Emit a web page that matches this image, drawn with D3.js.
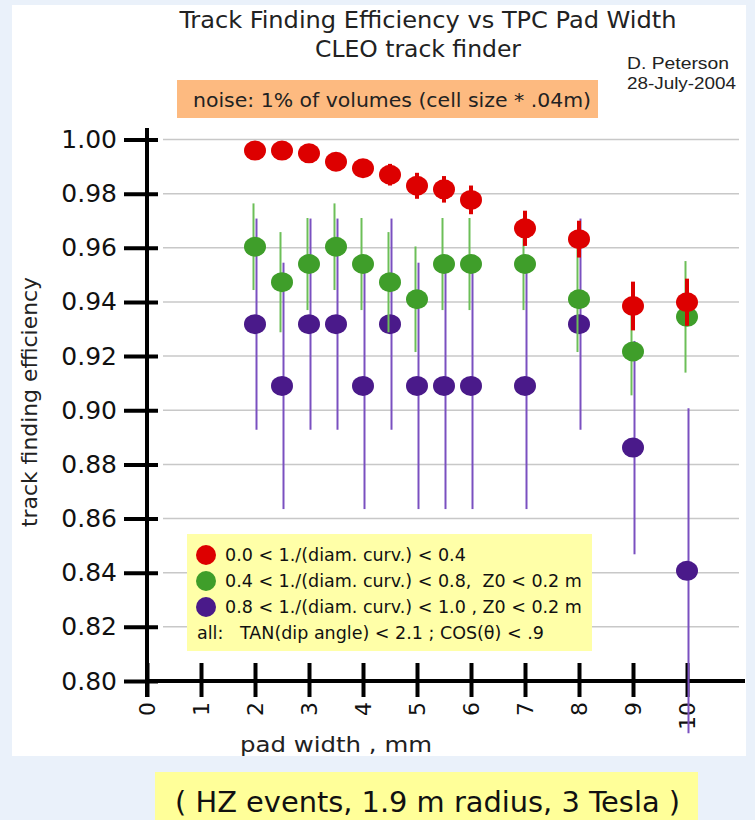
<!DOCTYPE html>
<html>
<head>
<meta charset="utf-8">
<script src="https://cdn.jsdelivr.net/npm/d3@7"></script>
<style>
  html, body { margin: 0; padding: 0; background: #eaf1fa; }
  svg { display: block; }
</style>
</head>
<body>
<svg id="chart" width="755" height="820"></svg>
<script>
// Pad widths (mm) at which the track finder was run
const padWidths = [2, 2.5, 3, 3.5, 4, 4.5, 5, 5.5, 6, 7, 8, 9, 10];

// 0.0 < 1/(diam. curv.) < 0.4
const lowCurvEff = [0.9959, 0.9959, 0.9949, 0.9918, 0.9894, 0.9870, 0.9829, 0.9816, 0.9777, 0.9672, 0.9632, 0.9385, 0.9399];
const lowCurvErr = [0.0015, 0.0015, 0.0020, 0.0025, 0.0030, 0.0040, 0.0048, 0.0049, 0.0053, 0.0065, 0.0068, 0.0090, 0.0087];

// 0.4 < 1/(diam. curv.) < 0.8, Z0 < 0.2 m
const midCurvEff = [0.9604, 0.9473, 0.9540, 0.9604, 0.9540, 0.9473, 0.9410, 0.9540, 0.9540, 0.9540, 0.9410, 0.9217, 0.9345];
const midCurvErr = [0.0160, 0.0185, 0.0170, 0.0160, 0.0170, 0.0185, 0.0195, 0.0170, 0.0170, 0.0170, 0.0195, 0.0162, 0.0206];

// 0.8 < 1/(diam. curv.) < 1.0, Z0 < 0.2 m
const highCurvEff = [0.9318, 0.9090, 0.9318, 0.9318, 0.9090, 0.9318, 0.9090, 0.9090, 0.9090, 0.9090, 0.9318, 0.8862, 0.8407];
const highCurvErr = [0.0390, 0.0455, 0.0390, 0.0390, 0.0455, 0.0390, 0.0455, 0.0455, 0.0455, 0.0455, 0.0390, 0.0394, 0.0600];

const yTicks = [0.80, 0.82, 0.84, 0.86, 0.88, 0.90, 0.92, 0.94, 0.96, 0.98, 1.00];
const xTicks = [0, 1, 2, 3, 4, 5, 6, 7, 8, 9, 10];

const legendLabels = [
  "0.0 < 1./(diam. curv.) < 0.4",
  "0.4 < 1./(diam. curv.) < 0.8,  Z0 < 0.2 m",
  "0.8 < 1./(diam. curv.) < 1.0 , Z0 < 0.2 m"
];
const legendNote = "all:   TAN(dip angle) < 2.1 ; COS(\u03b8) < .9";

const series = [
  { name: legendLabels[2], eff: highCurvEff, err: highCurvErr, fill: "#4a1a8a", bar: "#7a50c0", barWidth: 2, offset: 1.5 },
  { name: legendLabels[1], eff: midCurvEff, err: midCurvErr, fill: "#3f9e2a", bar: "#6cbf58", barWidth: 2, offset: -1.5 },
  { name: legendLabels[0], eff: lowCurvEff, err: lowCurvErr, fill: "#dd0000", bar: "#dd0000", barWidth: 4, offset: 0 }
];

const svg = d3.select("#chart");
const VERDANA = "'DejaVu Sans', Verdana, sans-serif";
const NARROW = "'Liberation Sans Narrow', 'DejaVu Sans Condensed', 'Liberation Sans', Arial, sans-serif";
const ARIAL = "'Liberation Sans', Arial, sans-serif";

// white slide panel
svg.append("rect").attr("x", 12).attr("y", 5).attr("width", 734).attr("height", 751).attr("fill", "#ffffff");

const x = d3.scaleLinear().domain([0, 10]).range([147, 687]);
const y = d3.scaleLinear().domain([0.8, 1.0]).range([681, 139.5]);

// titles
svg.append("text").attr("x", 428).attr("y", 28).attr("text-anchor", "middle")
  .attr("font-family", NARROW).attr("font-size", 23).attr("fill", "#222")
  .attr("textLength", 497).attr("lengthAdjust", "spacingAndGlyphs")
  .text("Track Finding Efficiency vs TPC Pad Width");
svg.append("text").attr("x", 418).attr("y", 57).attr("text-anchor", "middle")
  .attr("font-family", NARROW).attr("font-size", 23).attr("fill", "#222")
  .attr("textLength", 206).attr("lengthAdjust", "spacingAndGlyphs")
  .text("CLEO track finder");
svg.append("text").attr("x", 627).attr("y", 69)
  .attr("font-family", ARIAL).attr("font-size", 17).attr("fill", "#222")
  .attr("textLength", 102).attr("lengthAdjust", "spacingAndGlyphs")
  .text("D. Peterson");
svg.append("text").attr("x", 627).attr("y", 89)
  .attr("font-family", ARIAL).attr("font-size", 17).attr("fill", "#222")
  .attr("textLength", 109).attr("lengthAdjust", "spacingAndGlyphs")
  .text("28-July-2004");

// noise note
svg.append("rect").attr("x", 177).attr("y", 80).attr("width", 421).attr("height", 38).attr("fill", "#fdba80");
svg.append("text").attr("x", 193).attr("y", 107)
  .attr("font-family", NARROW).attr("font-size", 20).attr("fill", "#222")
  .attr("textLength", 398).attr("lengthAdjust", "spacingAndGlyphs")
  .text("noise: 1% of volumes (cell size * .04m)");

// horizontal grid
svg.append("g").selectAll("line").data(yTicks.filter(d => d > 0.8)).join("line")
  .attr("x1", 163).attr("x2", 739)
  .attr("y1", d => y(d)).attr("y2", d => y(d))
  .attr("stroke", "#c8c8c8").attr("stroke-width", 1.5);

// y axis
const yAxis = svg.append("g").attr("transform", `translate(${x(0)},0)`)
  .call(d3.axisLeft(y).tickValues(yTicks).tickFormat(d3.format(".2f")).tickSize(23).tickPadding(7));
yAxis.select(".domain").remove();
yAxis.selectAll(".tick line").attr("x1", 11).attr("stroke", "#000").attr("stroke-width", 4);
yAxis.selectAll(".tick text").attr("font-family", VERDANA).attr("font-size", 25).attr("fill", "#111");
yAxis.append("line").attr("x1", 0).attr("x2", 0).attr("y1", 128).attr("y2", 697)
  .attr("stroke", "#000").attr("stroke-width", 4);

// x axis
const xAxis = svg.append("g").attr("transform", `translate(0,${y(0.8)})`)
  .call(d3.axisBottom(x).tickValues(xTicks).tickFormat(d3.format("d")).tickSize(16));
xAxis.select(".domain").remove();
xAxis.selectAll(".tick line").attr("y1", -18).attr("stroke", "#000").attr("stroke-width", 4);
xAxis.selectAll(".tick text")
  .attr("transform", "rotate(-90)")
  .attr("x", -21).attr("y", 0).attr("dy", "0.36em")
  .attr("text-anchor", "end")
  .attr("font-family", VERDANA).attr("font-size", 22).attr("fill", "#111");
xAxis.append("line").attr("x1", x(0)).attr("x2", x.range()[1] + 58).attr("y1", 0).attr("y2", 0)
  .attr("stroke", "#000").attr("stroke-width", 4);

// axis titles
svg.append("text").attr("transform", "translate(37,402) rotate(-90)").attr("text-anchor", "middle")
  .attr("font-family", NARROW).attr("font-size", 21).attr("fill", "#222")
  .attr("textLength", 250).attr("lengthAdjust", "spacingAndGlyphs")
  .text("track finding efficiency");
svg.append("text").attr("x", 336).attr("y", 752).attr("text-anchor", "middle")
  .attr("font-family", NARROW).attr("font-size", 21).attr("fill", "#222")
  .attr("textLength", 192).attr("lengthAdjust", "spacingAndGlyphs")
  .text("pad width , mm");

// data: error bars then markers, one series at a time
const plot = svg.append("g");
series.forEach(s => {
  const pts = padWidths.map((w, i) => ({ w, v: s.eff[i], e: s.err[i] }));
  const g = plot.append("g");
  g.selectAll("line").data(pts).join("line")
    .attr("x1", d => x(d.w) + s.offset).attr("x2", d => x(d.w) + s.offset)
    .attr("y1", d => y(d.v + d.e)).attr("y2", d => y(d.v - d.e))
    .attr("stroke", s.bar).attr("stroke-width", s.barWidth);
  g.selectAll("ellipse").data(pts).join("ellipse")
    .attr("cx", d => x(d.w)).attr("cy", d => y(d.v))
    .attr("rx", 11).attr("ry", 10)
    .attr("fill", s.fill);
});

// legend
const legendX = 187, legendY = 534;
svg.append("rect").attr("x", legendX).attr("y", legendY).attr("width", 405).attr("height", 117).attr("fill", "#ffffa8");
const legendRows = series.slice().reverse();
const lg = svg.append("g");
lg.selectAll("circle").data(legendRows).join("circle")
  .attr("cx", legendX + 19).attr("cy", (d, i) => legendY + 21 + i * 26)
  .attr("r", 10).attr("fill", d => d.fill);
lg.selectAll("text.row").data(legendRows).join("text").attr("class", "row")
  .attr("x", legendX + 38).attr("y", (d, i) => legendY + 27 + i * 26)
  .attr("font-family", VERDANA).attr("font-size", 17.5).attr("fill", "#111")
  .attr("xml:space", "preserve").style("white-space", "pre")
  .text(d => d.name);
lg.append("text").attr("x", legendX + 10).attr("y", legendY + 105)
  .attr("font-family", VERDANA).attr("font-size", 17.5).attr("fill", "#111")
  .attr("xml:space", "preserve").style("white-space", "pre")
  .text(legendNote);

// run conditions
svg.append("rect").attr("x", 155).attr("y", 772).attr("width", 543).attr("height", 48).attr("fill", "#ffff99");
svg.append("text").attr("x", 175).attr("y", 812)
  .attr("font-family", NARROW).attr("font-size", 28).attr("fill", "#111")
  .attr("textLength", 505).attr("lengthAdjust", "spacingAndGlyphs")
  .text("( HZ events, 1.9 m radius, 3 Tesla )");
</script>
</body>
</html>
